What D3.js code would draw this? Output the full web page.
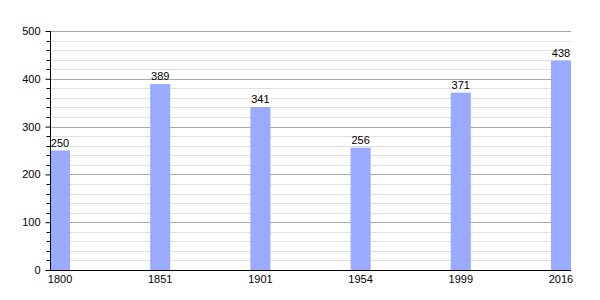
<!DOCTYPE html>
<html>
<head>
<meta charset="utf-8">
<script src="https://cdn.jsdelivr.net/npm/d3@7"></script>
<style>
  body { margin: 0; background: #fff; }
  text { font-family: "Liberation Sans", Arial, sans-serif; font-size: 11px; fill: #000; }
</style>
</head>
<body>
<div id="chart"></div>
<script>
// population by census year
const years = ["1800", "1851", "1901", "1954", "1999", "2016"]
const population = [250, 389, 341, 256, 371, 438]
const majorTicks = [0, 100, 200, 300, 400, 500]

const width = 600, height = 300
const margin = { left: 50, right: 29, top: 31, bottom: 30 }

const svg = d3.select("#chart").append("svg")
  .attr("width", width)
  .attr("height", height)

const x = d3.scaleBand()
  .domain(years)
  .range([margin.left, width - margin.right])
  .paddingInner(0.8)
  .paddingOuter(0)
  .align(0)

const y = d3.scaleLinear()
  .domain([0, 500])
  .range([height - margin.bottom, margin.top])

const minorTicks = d3.range(0, 501, 20).filter(d => d % 100 !== 0)

// grid
svg.append("g").selectAll("line").data(minorTicks).enter().append("line")
  .attr("x1", margin.left).attr("x2", width - margin.right)
  .attr("y1", d => Math.round(y(d)) + 0.5).attr("y2", d => Math.round(y(d)) + 0.5)
  .attr("stroke", "#e0e0e0")
svg.append("g").selectAll("line").data(majorTicks.slice(1)).enter().append("line")
  .attr("x1", margin.left).attr("x2", width - margin.right)
  .attr("y1", d => Math.round(y(d)) + 0.5).attr("y2", d => Math.round(y(d)) + 0.5)
  .attr("stroke", "#a8a8a8")

// bars
svg.append("g").selectAll("rect").data(population).enter().append("rect")
  .attr("x", (d, i) => x(years[i]))
  .attr("width", x.bandwidth())
  .attr("y", d => y(d))
  .attr("height", d => y(0) - y(d))
  .attr("fill", "#99aaff")

svg.append("g").selectAll("text").data(population).enter().append("text")
  .attr("x", (d, i) => x(years[i]) + x.bandwidth() / 2)
  .attr("y", d => y(d) - 4)
  .attr("text-anchor", "middle")
  .text(d => d)

// y axis with minor ticks
const yAxis = svg.append("g").attr("transform", "translate(" + (margin.left + 0.5) + ",0)")
yAxis.call(d3.axisLeft(y).tickValues(majorTicks).tickSize(5).tickPadding(5))
yAxis.call(g => g.select(".domain").attr("d", "M0," + y(500) + "V" + y(0)))
yAxis.selectAll(".minor").data(minorTicks).enter().append("line")
  .attr("class", "minor")
  .attr("x1", -4).attr("x2", 0)
  .attr("y1", d => Math.round(y(d)) + 0.5).attr("y2", d => Math.round(y(d)) + 0.5)
  .attr("stroke", "#000")
yAxis.attr("font-family", null).attr("font-size", null)

// x axis
const xAxis = svg.append("g").attr("transform", "translate(0," + (Math.round(y(0)) + 0.5) + ")")
xAxis.call(d3.axisBottom(x).tickSize(0).tickPadding(5))
xAxis.select(".domain").attr("d", "M" + margin.left + ",0H" + (width - margin.right))
xAxis.attr("font-family", null).attr("font-size", null)
</script>
</body>
</html>
